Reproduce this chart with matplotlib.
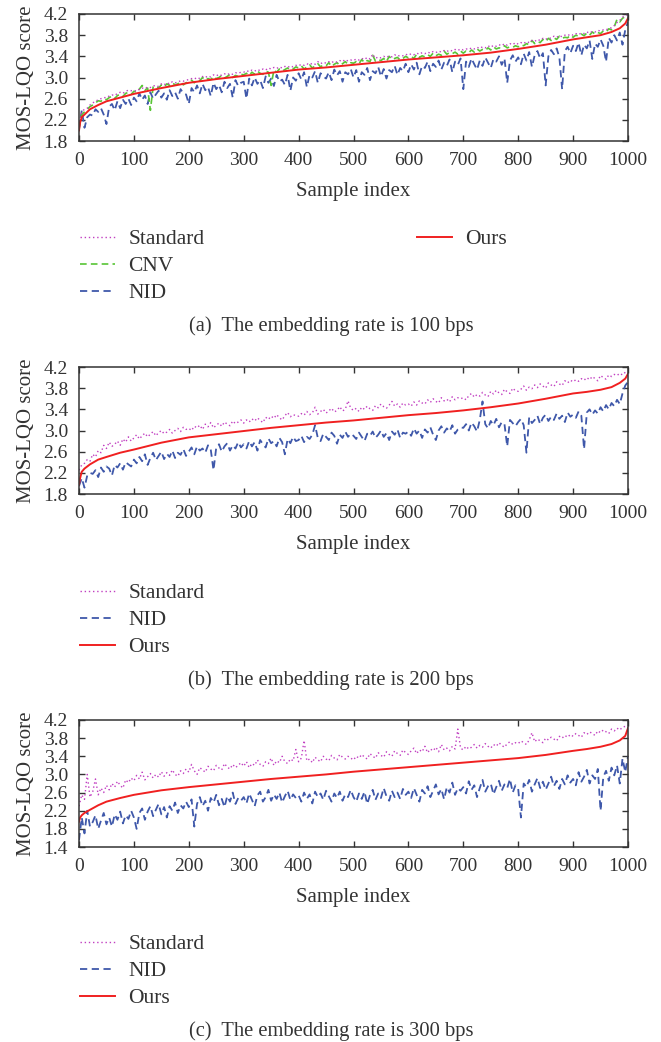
import numpy as np
import matplotlib
matplotlib.use('Agg')
from matplotlib import pyplot as plt

plt.rcParams['font.family'] = ['Liberation Serif', 'DejaVu Serif']
plt.rcParams['font.size'] = 14

# sample positions of the noisy curves (every 5th sample) and of the smooth "Ours" curve
idx = np.arange(0, 1001, 5)
ours_x = [0, 2, 5, 10, 20, 35, 50, 75, 100, 150, 200, 250, 300, 350, 400, 450, 500, 550, 600, 650,
          700, 750, 800, 850, 900, 925, 950, 970, 985, 995, 1000]

# ---- (a) 100 bps ----
ours_a = [2.00, 2.15, 2.25, 2.30, 2.40, 2.48, 2.55, 2.62, 2.69, 2.80, 2.90, 2.97, 3.03, 3.09, 3.15, 3.19,
          3.24, 3.29, 3.34, 3.38, 3.42, 3.47, 3.54, 3.62, 3.72, 3.76, 3.80, 3.86, 3.93, 4.02, 4.12]
std_a = [2.08, 2.35, 2.40, 2.42, 2.48, 2.52, 2.55, 2.58, 2.60, 2.62, 2.62, 2.65, 2.67, 2.66, 2.70, 2.72, 2.70, 2.74, 2.76, 2.75,
         2.76, 2.74, 2.78, 2.80, 2.79, 2.82, 2.81, 2.84, 2.85, 2.83, 2.88, 2.86, 2.90, 2.88, 2.92, 2.90, 2.91, 2.94, 2.93, 2.95,
         2.96, 2.98, 2.97, 3.00, 2.98, 3.02, 3.00, 3.03, 3.01, 3.05, 3.03, 3.06, 3.04, 3.07, 3.05, 3.08, 3.06, 3.09, 3.08, 3.10,
         3.10, 3.13, 3.11, 3.14, 3.12, 3.15, 3.13, 3.16, 3.14, 3.18, 3.16, 3.19, 3.17, 3.20, 3.18, 3.21, 3.19, 3.22, 3.20, 3.23,
         3.22, 3.25, 3.23, 3.26, 3.24, 3.27, 3.25, 3.30, 3.26, 3.29, 3.27, 3.30, 3.28, 3.31, 3.29, 3.32, 3.30, 3.34, 3.31, 3.33,
         3.32, 3.35, 3.33, 3.36, 3.34, 3.38, 3.35, 3.44, 3.36, 3.39, 3.37, 3.40, 3.38, 3.41, 3.39, 3.43, 3.40, 3.42, 3.41, 3.44,
         3.42, 3.45, 3.43, 3.46, 3.44, 3.47, 3.45, 3.48, 3.46, 3.49, 3.47, 3.50, 3.48, 3.51, 3.49, 3.52, 3.50, 3.53, 3.51, 3.54,
         3.52, 3.54, 3.53, 3.56, 3.54, 3.57, 3.55, 3.58, 3.56, 3.60, 3.57, 3.61, 3.59, 3.62, 3.60, 3.64, 3.61, 3.64, 3.62, 3.66,
         3.63, 3.66, 3.64, 3.68, 3.66, 3.70, 3.68, 3.72, 3.70, 3.74, 3.72, 3.75, 3.74, 3.78, 3.76, 3.79, 3.77, 3.80, 3.79, 3.82,
         3.80, 3.83, 3.81, 3.84, 3.83, 3.86, 3.84, 3.87, 3.86, 3.89, 3.88, 3.90, 3.90, 3.93, 3.94, 3.98, 4.04, 4.08, 4.14, 4.16,
         4.20]
cnv_a = [2.05, 2.30, 2.35, 2.40, 2.45, 2.48, 2.52, 2.56, 2.55, 2.60, 2.58, 2.62, 2.65, 2.60, 2.66, 2.68, 2.64, 2.70, 2.72, 2.68,
         2.74, 2.72, 2.78, 2.85, 2.76, 2.80, 2.38, 2.82, 2.84, 2.80, 2.86, 2.82, 2.88, 2.85, 2.90, 2.86, 2.88, 2.92, 2.86, 2.90,
         2.92, 2.95, 2.90, 2.96, 2.94, 3.00, 2.95, 2.98, 2.96, 3.02, 2.98, 3.00, 3.04, 2.99, 3.02, 3.06, 3.00, 3.04, 3.02, 3.06,
         3.05, 3.08, 3.04, 3.10, 3.06, 3.12, 3.08, 3.06, 3.12, 3.10, 2.85, 3.14, 3.10, 3.16, 3.12, 3.15, 3.18, 3.14, 3.16, 3.20,
         3.18, 3.22, 3.16, 3.20, 3.24, 3.18, 3.22, 3.26, 3.20, 3.24, 3.22, 3.28, 3.21, 3.25, 3.28, 3.23, 3.26, 3.30, 3.25, 3.28,
         3.27, 3.30, 3.26, 3.34, 3.28, 3.32, 3.30, 3.42, 3.31, 3.34, 3.32, 3.36, 3.30, 3.40, 3.34, 3.36, 3.38, 3.33, 3.36, 3.40,
         3.37, 3.40, 3.36, 3.44, 3.38, 3.41, 3.39, 3.43, 3.40, 3.46, 3.41, 3.44, 3.42, 3.50, 3.44, 3.47, 3.45, 3.48, 3.44, 3.50,
         3.46, 3.50, 3.47, 3.52, 3.48, 3.54, 3.50, 3.53, 3.51, 3.56, 3.52, 3.58, 3.54, 3.56, 3.55, 3.60, 3.56, 3.58, 3.57, 3.60,
         3.58, 3.62, 3.60, 3.64, 3.62, 3.70, 3.64, 3.68, 3.66, 3.72, 3.68, 3.74, 3.70, 3.75, 3.72, 3.78, 3.74, 3.76, 3.75, 3.80,
         3.76, 3.80, 3.78, 3.82, 3.79, 3.84, 3.80, 3.86, 3.82, 3.85, 3.83, 3.88, 3.86, 3.92, 3.90, 3.96, 4.10, 4.05, 4.12, 4.15,
         4.18]
nid_a = [2.02, 2.38, 2.05, 2.25, 2.30, 2.28, 2.40, 2.35, 2.42, 2.30, 2.12, 2.45, 2.50, 2.38, 2.55, 2.42, 2.58, 2.50, 2.60, 2.48,
         2.62, 2.55, 2.70, 2.58, 2.66, 2.50, 2.72, 2.60, 2.68, 2.75, 2.62, 2.70, 2.58, 2.76, 2.65, 2.72, 2.60, 2.78, 2.70, 2.68,
         2.50, 2.80, 2.72, 2.85, 2.70, 2.88, 2.76, 2.82, 2.65, 2.90, 2.78, 2.86, 2.72, 2.92, 2.80, 2.88, 2.62, 2.95, 2.84, 2.90,
         2.92, 2.60, 2.98, 2.85, 3.00, 2.88, 2.95, 2.80, 3.02, 2.90, 2.98, 2.84, 3.05, 2.92, 2.96, 2.86, 3.05, 2.75, 3.00, 2.94,
         3.08, 2.96, 3.10, 2.82, 3.05, 3.00, 3.12, 2.90, 3.08, 3.02, 2.98, 3.10, 2.95, 3.15, 3.04, 3.12, 2.92, 3.10, 3.06, 3.16,
         3.00, 3.14, 2.92, 3.10, 3.05, 3.18, 2.95, 3.12, 3.08, 3.20, 3.02, 3.16, 2.98, 3.14, 3.10, 3.22, 3.05, 3.18, 3.12, 3.26,
         3.10, 3.25, 3.15, 3.28, 3.06, 3.22, 3.18, 3.30, 3.12, 3.26, 3.20, 3.32, 3.15, 3.28, 3.22, 3.34, 3.10, 3.30, 3.24, 3.36,
         2.78, 3.30, 3.20, 3.36, 3.25, 3.15, 3.32, 3.22, 3.38, 3.28, 3.18, 3.35, 3.30, 3.40, 3.24, 3.36, 2.90, 3.32, 3.42, 3.30,
         3.38, 3.25, 3.45, 3.32, 3.48, 3.20, 3.42, 3.50, 3.36, 3.46, 2.85, 3.40, 3.52, 3.44, 3.55, 3.38, 2.78, 3.50, 3.58, 3.46,
         3.60, 3.50, 3.66, 3.42, 3.62, 3.55, 3.70, 3.35, 3.64, 3.58, 3.72, 3.60, 3.30, 3.75, 3.66, 3.80, 3.70, 3.85, 3.62, 3.90,
         4.05]

# ---- (b) 200 bps ----
ours_b = [1.98, 2.10, 2.22, 2.28, 2.36, 2.45, 2.50, 2.58, 2.64, 2.77, 2.87, 2.93, 2.99, 3.05, 3.10, 3.15,
          3.19, 3.24, 3.29, 3.33, 3.38, 3.44, 3.51, 3.60, 3.70, 3.73, 3.77, 3.82, 3.90, 3.98, 4.07]
std_b = [2.25, 2.35, 2.38, 2.45, 2.42, 2.55, 2.50, 2.62, 2.58, 2.72, 2.66, 2.78, 2.70, 2.74, 2.80, 2.72, 2.84, 2.78, 2.88, 2.80,
         2.86, 2.92, 2.84, 2.90, 2.95, 2.88, 2.93, 2.98, 2.90, 2.96, 3.00, 2.94, 2.97, 3.02, 2.95, 3.00, 3.04, 2.98, 3.06, 3.02,
         3.04, 3.00, 3.08, 3.05, 3.10, 3.02, 3.12, 3.07, 3.15, 3.05, 3.10, 3.14, 3.08, 3.16, 3.12, 3.09, 3.18, 3.13, 3.16, 3.20,
         3.14, 3.20, 3.16, 3.22, 3.18, 3.24, 3.19, 3.15, 3.25, 3.21, 3.27, 3.23, 3.30, 3.24, 3.20, 3.28, 3.34, 3.26, 3.30, 3.28,
         3.27, 3.32, 3.29, 3.36, 3.30, 3.33, 3.44, 3.31, 3.36, 3.40, 3.33, 3.37, 3.42, 3.35, 3.38, 3.45, 3.37, 3.40, 3.56, 3.42,
         3.38, 3.42, 3.36, 3.44, 3.40, 3.46, 3.41, 3.38, 3.47, 3.43, 3.50, 3.45, 3.42, 3.48, 3.55, 3.46, 3.50, 3.44, 3.52, 3.48,
         3.50, 3.46, 3.54, 3.48, 3.56, 3.52, 3.50, 3.58, 3.53, 3.60, 3.55, 3.52, 3.62, 3.56, 3.59, 3.54, 3.64, 3.58, 3.62, 3.60,
         3.62, 3.58, 3.66, 3.70, 3.63, 3.68, 3.65, 3.72, 3.67, 3.64, 3.74, 3.69, 3.76, 3.71, 3.68, 3.78, 3.73, 3.70, 3.80, 3.75,
         3.74, 3.78, 3.84, 3.76, 3.82, 3.79, 3.86, 3.81, 3.88, 3.84, 3.80, 3.90, 3.86, 3.83, 3.92, 3.88, 3.85, 3.94, 3.90, 3.95,
         3.92, 3.96, 3.93, 3.98, 3.95, 4.00, 3.96, 4.02, 3.98, 3.94, 4.04, 4.00, 3.97, 4.05, 4.02, 4.06, 4.04, 4.08, 4.05, 4.10,
         4.12]
nid_b = [1.95, 2.10, 1.92, 2.15, 2.20, 2.18, 2.25, 2.12, 2.30, 2.22, 2.32, 2.28, 2.15, 2.35, 2.30, 2.38, 2.26, 2.40, 2.36, 2.32,
         2.45, 2.38, 2.50, 2.42, 2.55, 2.35, 2.48, 2.58, 2.44, 2.52, 2.60, 2.46, 2.56, 2.50, 2.62, 2.48, 2.58, 2.54, 2.65, 2.52,
         2.60, 2.68, 2.55, 2.70, 2.62, 2.66, 2.58, 2.72, 2.64, 2.25, 2.68, 2.74, 2.60, 2.70, 2.76, 2.62, 2.72, 2.66, 2.78, 2.68,
         2.74, 2.66, 2.80, 2.70, 2.78, 2.62, 2.82, 2.74, 2.68, 2.85, 2.76, 2.80, 2.70, 2.86, 2.78, 2.55, 2.84, 2.76, 2.88, 2.80,
         2.82, 2.90, 2.78, 2.88, 2.84, 2.92, 3.10, 2.86, 2.80, 2.94, 2.88, 2.82, 2.96, 2.90, 2.75, 2.92, 2.86, 2.98, 2.88, 2.94,
         2.90, 2.84, 2.96, 2.88, 2.80, 2.94, 2.90, 2.98, 2.86, 2.92, 3.00, 2.88, 2.95, 2.82, 2.98, 2.92, 3.02, 2.86, 2.96, 2.94,
         2.98, 2.90, 3.04, 2.94, 3.00, 2.86, 3.02, 2.96, 3.06, 2.92, 2.82, 3.00, 3.08, 2.96, 3.04, 2.98, 3.10, 2.94, 3.02, 3.06,
         3.05, 3.12, 3.00, 3.15, 3.08, 2.98, 3.20, 3.55, 3.12, 3.04, 3.18, 3.10, 3.22, 3.06, 3.16, 3.12, 2.70, 3.20, 3.14, 3.08,
         3.16, 3.22, 3.10, 2.58, 3.25, 3.14, 3.20, 3.28, 3.12, 3.24, 3.30, 3.18, 3.26, 3.20, 3.32, 3.22, 3.28, 3.16, 3.34, 3.26,
         3.30, 3.24, 3.36, 3.28, 2.65, 3.34, 3.40, 3.30, 3.38, 3.32, 3.44, 3.36, 3.48, 3.40, 3.52, 3.46, 3.58, 3.50, 3.70, 3.85,
         3.92]

# ---- (c) 300 bps ----
ours_c = [1.96, 2.05, 2.10, 2.15, 2.22, 2.32, 2.40, 2.48, 2.55, 2.65, 2.72, 2.78, 2.84, 2.90, 2.95, 3.00,
          3.06, 3.11, 3.16, 3.21, 3.26, 3.31, 3.36, 3.43, 3.52, 3.56, 3.61, 3.67, 3.75, 3.85, 4.02]
std_c = [2.30, 2.55, 2.45, 3.00, 2.50, 2.62, 2.90, 2.55, 2.70, 2.60, 2.76, 2.66, 2.80, 2.72, 2.85, 2.76, 2.70, 2.88, 2.82, 2.92,
         2.86, 2.98, 2.90, 3.05, 2.88, 2.95, 3.02, 2.92, 3.00, 2.94, 3.06, 2.96, 3.04, 2.98, 3.10, 3.00, 2.96, 3.08, 3.02, 3.12,
         3.05, 3.22, 3.08, 3.00, 3.15, 3.10, 3.05, 3.18, 3.12, 3.08, 3.20, 3.14, 3.10, 3.24, 3.16, 3.12, 3.22, 3.15, 3.20, 3.26,
         3.18, 3.28, 3.15, 3.24, 3.20, 3.32, 3.22, 3.18, 3.28, 3.24, 3.36, 3.20, 3.30, 3.26, 3.40, 3.28, 3.24, 3.34, 3.30, 3.55,
         3.28, 3.36, 3.75, 3.30, 3.34, 3.26, 3.38, 3.32, 3.28, 3.40, 3.34, 3.30, 3.42, 3.36, 3.32, 3.44, 3.38, 3.34, 3.40, 3.36,
         3.32, 3.40, 3.36, 3.44, 3.38, 3.34, 3.46, 3.40, 3.36, 3.48, 3.42, 3.38, 3.50, 3.44, 3.40, 3.52, 3.46, 3.42, 3.54, 3.48,
         3.44, 3.52, 3.58, 3.46, 3.54, 3.50, 3.62, 3.48, 3.56, 3.52, 3.60, 3.50, 3.66, 3.54, 3.58, 3.52, 3.62, 3.56, 4.00, 3.58,
         3.54, 3.62, 3.56, 3.60, 3.66, 3.58, 3.64, 3.60, 3.68, 3.62, 3.58, 3.66, 3.62, 3.70, 3.64, 3.60, 3.68, 3.72, 3.66, 3.70,
         3.68, 3.74, 3.70, 3.66, 3.76, 3.92, 3.72, 3.78, 3.74, 3.70, 3.80, 3.76, 3.82, 3.78, 3.74, 3.84, 3.80, 3.86, 3.82, 3.88,
         3.84, 3.90, 3.86, 3.82, 3.92, 3.88, 3.94, 3.90, 3.86, 3.96, 3.92, 3.98, 3.94, 3.90, 4.00, 3.96, 4.02, 3.98, 4.04, 4.06,
         4.08]
nid_c = [1.55, 2.05, 1.70, 2.20, 1.85, 1.95, 2.10, 1.80, 1.98, 2.15, 1.90, 2.05, 1.85, 2.12, 2.00, 2.18, 1.92, 2.10, 2.02, 2.20,
         2.05, 1.80, 2.15, 2.25, 2.00, 2.18, 2.30, 2.08, 2.22, 2.35, 2.12, 2.28, 2.05, 2.30, 2.20, 2.38, 2.15, 2.32, 2.25, 2.40,
         2.28, 2.45, 1.85, 2.35, 2.50, 2.30, 2.42, 2.20, 2.48, 2.38, 2.55, 2.32, 2.46, 2.28, 2.52, 2.40, 2.60, 2.35, 2.48, 2.42,
         2.50, 2.36, 2.58, 2.44, 2.30, 2.54, 2.62, 2.40, 2.50, 2.66, 2.42, 2.56, 2.46, 2.60, 2.38, 2.52, 2.64, 2.44, 2.56, 2.48,
         2.54, 2.40, 2.60, 2.46, 2.56, 2.36, 2.62, 2.50, 2.58, 2.44, 2.64, 2.52, 2.40, 2.58, 2.48, 2.62, 2.42, 2.56, 2.50, 2.66,
         2.50, 2.40, 2.58, 2.46, 2.62, 2.35, 2.54, 2.66, 2.44, 2.58, 2.48, 2.70, 2.52, 2.42, 2.64, 2.50, 2.60, 2.46, 2.68, 2.55,
         2.62, 2.48, 2.70, 2.55, 2.40, 2.66, 2.58, 2.74, 2.50, 2.64, 2.78, 2.56, 2.68, 2.45, 2.72, 2.60, 2.82, 2.55, 2.70, 2.64,
         2.72, 2.58, 2.85, 2.66, 2.76, 2.50, 2.70, 2.88, 2.62, 2.74, 2.80, 2.56, 2.72, 2.86, 2.64, 2.78, 2.70, 2.90, 2.60, 2.76,
         2.68, 2.05, 2.80, 2.72, 2.88, 2.62, 2.78, 2.92, 2.70, 2.84, 2.66, 2.80, 2.95, 2.74, 2.86, 2.68, 2.90, 2.78, 2.98, 2.82,
         2.90, 2.76, 3.05, 2.84, 2.95, 3.10, 2.80, 2.98, 2.90, 3.12, 2.20, 2.94, 3.08, 2.86, 3.15, 2.98, 3.20, 2.80, 3.35, 3.05,
         3.40]

captions = ['(a)  The embedding rate is 100 bps',
            '(b)  The embedding rate is 200 bps',
            '(c)  The embedding rate is 300 bps']

c_std = '#c13fc1'
c_cnv = '#58c535'
c_nid = '#3f58aa'
c_ours = '#f02020'
dark = '#333333'
W, H = 661, 1042


def px_rect(left, top, right, bottom):
    return [left / W, 1 - bottom / H, (right - left) / W, (bottom - top) / H]


def setup_axes(ax, ymin):
    ax.set_xlim(0, 1000)
    ax.set_ylim(ymin, 4.2)
    ax.set_xticks(np.arange(0, 1001, 100))
    ax.set_yticks(np.round(np.arange(ymin, 4.21, 0.4), 1))
    ax.yaxis.set_major_formatter(matplotlib.ticker.FormatStrFormatter('%.1f'))
    ax.tick_params(direction='in', top=True, right=True, length=4.5, width=1.0,
                   color=dark, labelcolor=dark, labelsize=14)
    ax.tick_params(axis='x', pad=8)
    ax.tick_params(axis='y', pad=8)
    for s in ax.spines.values():
        s.set_color(dark)
        s.set_linewidth(1.1)
    ax.set_xlabel('Sample index', color=dark, fontsize=15, labelpad=9)
    ax.set_ylabel('MOS-LQO score', color=dark, fontsize=15, labelpad=5)


def put_legend(handles, labels, x_px, top_px):
    fig.legend(handles, labels, loc='upper left', bbox_to_anchor=(x_px / W, 1 - top_px / H),
               frameon=False, borderpad=0, borderaxespad=0, handlelength=1.63,
               handletextpad=0.62, labelspacing=0.33, fontsize=15.5, labelcolor=dark)


fig = plt.figure(figsize=(W / 100, H / 100), dpi=100)

# (a)
ax = fig.add_axes(px_rect(79, 14, 628, 141))
l_nid, = ax.plot(idx, nid_a, color=c_nid, lw=1.3, ls=(0, (4, 2.5)))
l_cnv, = ax.plot(idx, cnv_a, color=c_cnv, lw=1.2, ls=(0, (4, 2.5)))
l_std, = ax.plot(idx, std_a, color=c_std, lw=1.0, ls=(0, (1, 2)))
l_ours, = ax.plot(ours_x, ours_a, color=c_ours, lw=1.4)
setup_axes(ax, 1.8)
put_legend([l_std, l_cnv, l_nid], ['Standard', 'CNV', 'NID'], 80, 229)
put_legend([l_ours], ['Ours'], 417, 229)
fig.text(331 / W, 1 - 326 / H, captions[0], ha='center', va='center', fontsize=14.8, color=dark)

# (b)
ax = fig.add_axes(px_rect(79, 367, 628, 494))
l_nid, = ax.plot(idx, nid_b, color=c_nid, lw=1.3, ls=(0, (4, 2.5)))
l_std, = ax.plot(idx, std_b, color=c_std, lw=1.0, ls=(0, (1, 2)))
l_ours, = ax.plot(ours_x, ours_b, color=c_ours, lw=1.4)
setup_axes(ax, 1.8)
put_legend([l_std, l_nid, l_ours], ['Standard', 'NID', 'Ours'], 80, 583)
fig.text(331 / W, 1 - 680 / H, captions[1], ha='center', va='center', fontsize=14.8, color=dark)

# (c)
ax = fig.add_axes(px_rect(79, 720, 628, 847))
l_nid, = ax.plot(idx, nid_c, color=c_nid, lw=1.3, ls=(0, (4, 2.5)))
l_std, = ax.plot(idx, std_c, color=c_std, lw=1.0, ls=(0, (1, 2)))
l_ours, = ax.plot(ours_x, ours_c, color=c_ours, lw=1.4)
setup_axes(ax, 1.4)
put_legend([l_std, l_nid, l_ours], ['Standard', 'NID', 'Ours'], 80, 934)
fig.text(331 / W, 1 - 1031 / H, captions[2], ha='center', va='center', fontsize=14.8, color=dark)

fig.savefig('out.png', dpi=100)
